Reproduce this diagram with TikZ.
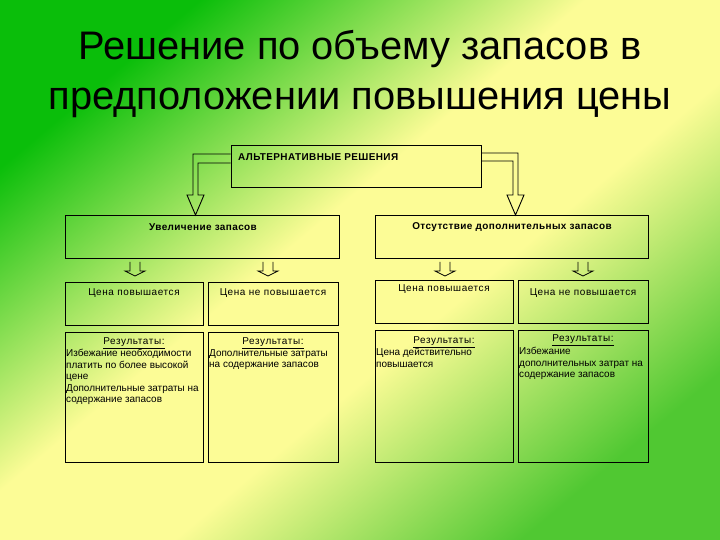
\documentclass[tikz,border=0pt]{standalone}
\usepackage{fontspec}
\setmainfont{Liberation Sans}
\definecolor{bggreen}{RGB}{10,190,10}
\definecolor{bggreenb}{RGB}{80,200,50}
\definecolor{bgyellow}{RGB}{252,252,150}
\pgfdeclareverticalshading{bgshade}{100bp}{color(0bp)=(bggreenb); color(25bp)=(bggreenb); color(43bp)=(bgyellow); color(55bp)=(bgyellow); color(75bp)=(bggreen); color(100bp)=(bggreen)}
\begin{document}
\begin{tikzpicture}[x=1bp,y=-1bp,
  box/.style={draw=black, line width=0.9pt, inner sep=0pt},
  hollow/.style={draw=black, line width=0.9pt, line join=miter},
  txt/.style={inner sep=0pt, font=\fontsize{10}{12}\selectfont\addfontfeatures{LetterSpace=6}},
  hdtxt/.style={inner sep=0pt, font=\fontsize{10}{12}\selectfont\bfseries\addfontfeatures{LetterSpace=4}},
  restxt/.style={inner sep=0pt, anchor=north west, align=left, font=\fontsize{10}{11.6}\selectfont}
]
\useasboundingbox (0,0) rectangle (720,540);
\shade[shading=bgshade, shading angle=40] (0,0) rectangle (720,540);

% title
\node[inner sep=0pt, align=center, font=\fontsize{40}{50}\selectfont] (title) at (360,74) {Решение по объему запасов в\\предположении повышения цены};

% main box
\node[box, minimum width=250bp, minimum height=42bp] (main) at (356,166) {};
\node[hdtxt, anchor=west] (maintxt) at (238,157) {АЛЬТЕРНАТИВНЫЕ РЕШЕНИЯ};

% second level
\node[box, minimum width=274bp, minimum height=43bp] (inc) at (202,236.5) {};
\node[box, minimum width=273bp, minimum height=43bp] (none) at (511.5,236.5) {};
\node[hdtxt] (inctxt) at (203,227) {Увеличение запасов};
\node[hdtxt] (nonetxt) at (512,227) {Отсутствие дополнительных запасов};

% big hollow arrows
\draw[hollow] (main.west |- 0,154) -- (193,154) -- (193,195) -- (187,195) -- (195.5,215) -- (204,195) -- (198,195) -- (198,163) -- (main.west |- 0,163);
\draw[hollow] (main.east |- 0,153) -- (518,153) -- (518,195) -- (524,195) -- (515.5,215) -- (507,195) -- (513,195) -- (513,161) -- (main.east |- 0,161);

% third level
\node[box, minimum width=138bp, minimum height=43bp] (a1) at (134,303.5) {};
\node[box, minimum width=130bp, minimum height=43bp] (a2) at (273,303.5) {};
\node[box, minimum width=138bp, minimum height=43bp] (b1) at (444,302) {};
\node[box, minimum width=130bp, minimum height=43bp] (b2) at (583,302) {};
\node[txt] (a1t) at (134,293) {Цена повышается};
\node[txt] (a2t) at (273,293) {Цена не повышается};
\node[txt] (b1t) at (444,289) {Цена повышается};
\node[txt] (b2t) at (583,293) {Цена не повышается};

% small hollow arrows
\foreach \cx/\nm in {135/sa,268/sb,445/sc,583/sd}{
  \draw[hollow, line width=0.7pt] (\cx-5,262) -- (\cx-5,271) -- (\cx-10,271) -- (\cx,276) -- (\cx+10,271) -- (\cx+5,271) -- (\cx+5,262);
}

% result boxes
\node[box, minimum width=138bp, minimum height=130bp] (r1) at (134,397) {};
\node[box, minimum width=130bp, minimum height=130bp] (r2) at (273,397) {};
\node[box, minimum width=138bp, minimum height=132bp] (r3) at (444,396) {};
\node[box, minimum width=130bp, minimum height=132bp] (r4) at (583,396) {};

\node[txt] (r1h) at (134,343) {\underline{Результаты:}};
\node[restxt] (r1t) at (66,349) {Избежание необходимости\\платить по более высокой\\цене\\Дополнительные затраты на\\содержание запасов};
\node[txt] (r2h) at (273,343) {\underline{Результаты:}};
\node[restxt] (r2t) at (209,349) {Дополнительные затраты\\на содержание запасов};
\node[txt] (r3h) at (444,342) {\underline{Результаты:}};
\node[restxt] (r3t) at (376,348) {Цена действительно\\повышается};
\node[txt] (r4h) at (583,340) {\underline{Результаты:}};
\node[restxt] (r4t) at (519,347) {Избежание\\дополнительных затрат на\\содержание запасов};
\end{tikzpicture}
\end{document}
